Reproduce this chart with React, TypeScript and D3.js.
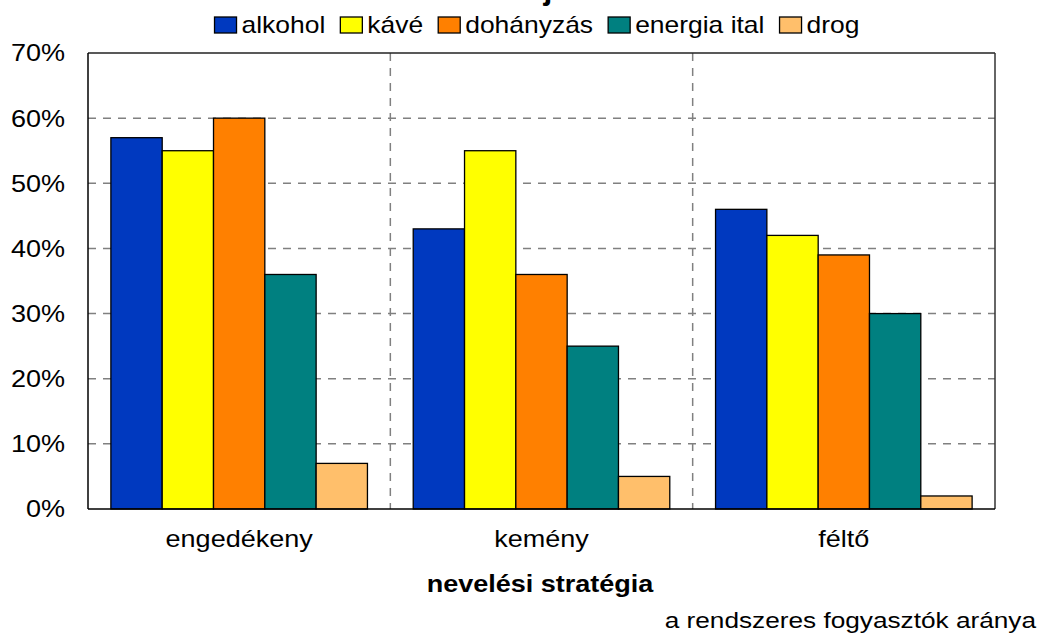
import React, { useMemo } from "react";
import * as d3 from "d3";

const categories = ["engedékeny", "kemény", "féltő"];
const seriesNames = ["alkohol", "kávé", "dohányzás", "energia ital", "drog"];
const seriesColors = ["#0039BF", "#FFFF00", "#FF8000", "#008080", "#FFBF6B"];
const values: number[][] = [
  [57, 43, 46], // alkohol
  [55, 55, 42], // kávé
  [60, 36, 39], // dohányzás
  [36, 25, 30], // energia ital
  [7, 5, 2], // drog
];
const yTicks = [0, 10, 20, 30, 40, 50, 60, 70];
const xTitle = "nevelési stratégia";
const note = "a rendszeres fogyasztók aránya";

const W = 1042;
const H = 635;
const FONT = "'Liberation Sans', Arial, sans-serif";
const SX = 1.15; // horizontal stretch of the reference's text
const FS = 23.5;

function measure(text: string, size: number, weight = "normal") {
  const c = document.createElement("canvas").getContext("2d");
  if (!c) return text.length * size * 0.55;
  c.font = `${weight} ${size}px 'Liberation Sans', Arial, sans-serif`;
  return c.measureText(text).width;
}

function T(props: {
  x: number;
  y: number;
  anchor?: "start" | "middle" | "end";
  weight?: string;
  size?: number;
  dy?: string;
  children: React.ReactNode;
}) {
  const { x, y, anchor = "start", weight = "normal", size = FS, dy, children } = props;
  return (
    <g transform={`translate(${x},${y}) scale(${SX},1)`}>
      <text x={0} y={0} dy={dy} textAnchor={anchor} fontWeight={weight} fontSize={size} fill="#000">
        {children}
      </text>
    </g>
  );
}

export default function App() {
  const plot = { left: 88, right: 995, top: 53, bottom: 509 };
  const x = d3.scaleBand<string>().domain(categories).range([plot.left, plot.right]).paddingInner(0).paddingOuter(0);
  const xi = d3
    .scaleBand<string>()
    .domain(seriesNames)
    .range([0, x.bandwidth()])
    .paddingInner(0)
    .paddingOuter(0.446);
  const y = d3.scaleLinear().domain([0, 70]).range([plot.bottom, plot.top]);

  const legendFont = 23;
  const legend = useMemo(() => {
    const sqW = 22;
    const gap = 5;
    const spacing = 15;
    const items = seriesNames.map((n) => ({ n, w: sqW + gap + measure(n, legendFont) * SX }));
    const total = items.reduce((s, it) => s + it.w, 0) + spacing * (items.length - 1);
    let cx = 537 - total / 2;
    return items.map((it, i) => {
      const r = { name: it.n, color: seriesColors[i], x: cx, sqW, gap };
      cx += it.w + spacing;
      return r;
    });
  }, []);

  const dash = "8 7";

  return (
    <svg
      width={W}
      height={H}
      style={{ position: "absolute", left: 0, top: 0, background: "#fff" }}
      fontFamily={FONT}
    >
      <rect x={0} y={0} width={W} height={H} fill="#fff" />
      {/* title, mostly cut off at the top */}
      <text x={548} y={-1} textAnchor="middle" fontWeight="bold" fontSize={32}>
        j
      </text>

      {/* legend */}
      {legend.map((l) => (
        <g key={l.name}>
          <rect x={l.x} y={17} width={l.sqW} height={16} fill={l.color} stroke="#000" strokeWidth={1.3} />
          <T x={l.x + l.sqW + l.gap} y={33} size={legendFont}>
            {l.name}
          </T>
        </g>
      ))}

      {/* gridlines */}
      {yTicks
        .filter((t) => t > 0 && t < 70)
        .map((t) => (
          <line
            key={t}
            x1={plot.left}
            x2={plot.right}
            y1={y(t)}
            y2={y(t)}
            stroke="#808080"
            strokeWidth={1.5}
            strokeDasharray={dash}
          />
        ))}
      {categories.slice(1).map((c) => (
        <line
          key={c}
          x1={x(c)!}
          x2={x(c)!}
          y1={plot.top}
          y2={plot.bottom}
          stroke="#808080"
          strokeWidth={1.5}
          strokeDasharray={dash}
        />
      ))}

      {/* bars */}
      {seriesNames.map((s, si) =>
        categories.map((c, ci) => {
          const v = values[si][ci];
          return (
            <rect
              key={s + c}
              x={x(c)! + xi(s)!}
              y={y(v)}
              width={xi.bandwidth()}
              height={y(0) - y(v)}
              fill={seriesColors[si]}
              stroke="#000"
              strokeWidth={1.3}
            />
          );
        })
      )}

      {/* frame */}
      <line x1={plot.left} x2={plot.right} y1={plot.top} y2={plot.top} stroke="#222" strokeWidth={1.5} />
      <line x1={plot.right} x2={plot.right} y1={plot.top} y2={plot.bottom} stroke="#333" strokeWidth={1.5} />
      <line x1={plot.left} x2={plot.left} y1={plot.top} y2={plot.bottom} stroke="#000" strokeWidth={1.5} />
      <line x1={plot.left} x2={plot.right} y1={plot.bottom} y2={plot.bottom} stroke="#000" strokeWidth={1.5} />

      {/* y tick labels */}
      {yTicks.map((t) => (
        <T key={t} x={65} y={y(t)} dy="0.36em" anchor="end">
          {t}%
        </T>
      ))}

      {/* x category labels */}
      {categories.map((c) => (
        <T key={c} x={x(c)! + x.bandwidth() / 2} y={547} anchor="middle">
          {c}
        </T>
      ))}

      <T x={540} y={592} anchor="middle" weight="bold">
        {xTitle}
      </T>
      <T x={1036} y={628} anchor="end" size={22.8}>
        {note}
      </T>
    </svg>
  );
}
